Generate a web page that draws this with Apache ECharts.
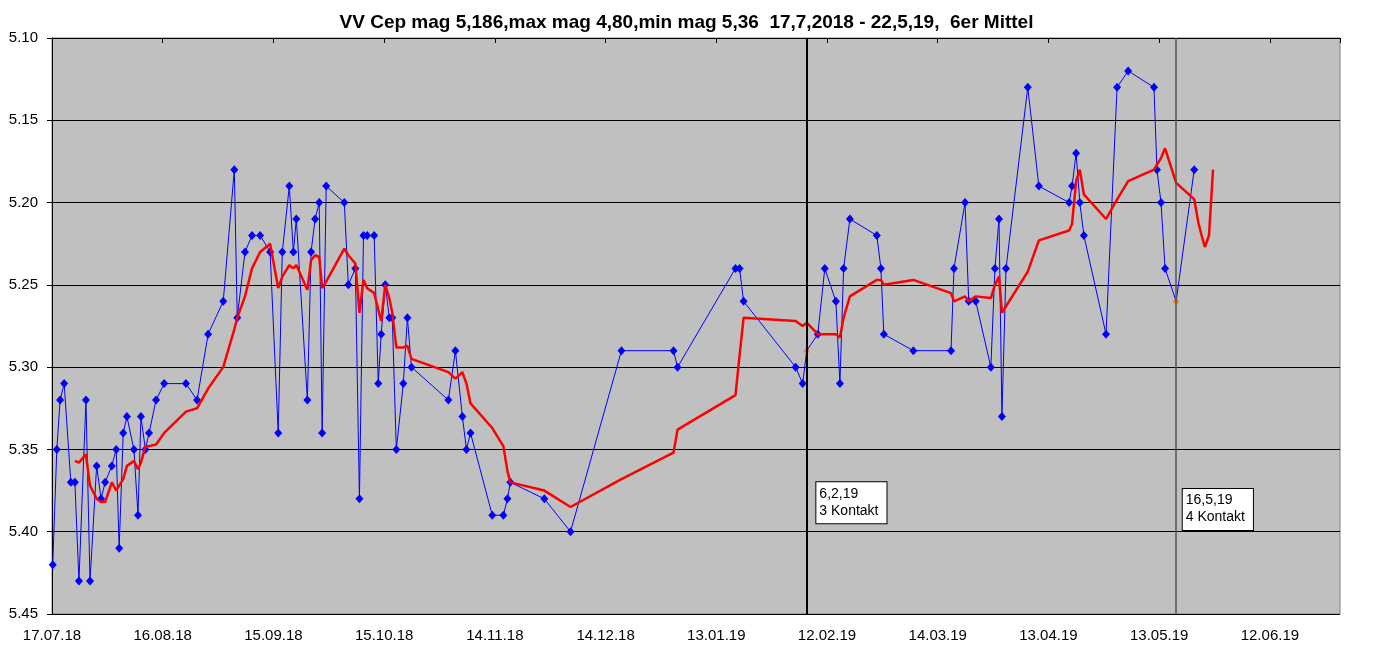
<!DOCTYPE html>
<html>
<head>
<meta charset="utf-8">
<script src="https://cdn.jsdelivr.net/npm/echarts@6/dist/echarts.min.js"></script>
<style>
html,body{margin:0;padding:0;background:#fff;}
#c{width:1373px;height:654px;}
</style>
</head>
<body>
<div id="c"></div>
<script>
// x values are days since 17.07.2018
const obsDay = [0.2,1.3,2.2,3.3,5.1,6.2,7.3,9.2,10.3,12.1,13.3,14.4,16.2,17.4,18.2,19.3,20.3,22.2,23.3,24.1,
  25.3,26.3,28.2,30.4,36.3,39.3,42.3,46.4,49.4,50.2,52.3,54.2,56.4,59.1,61.3,62.4,64.3,65.4,66.2,69.2,
  70.2,71.3,72.4,73.2,74.3,79.2,80.3,82.2,83.3,84.4,85.4,87.3,88.4,89.2,90.3,91.4,92.2,93.3,95.2,96.3,
  97.4,107.4,109.3,111.2,112.3,113.4,119.3,122.3,123.4,124.2,133.4,140.5,154.3,168.4,169.5,185.2,186.3,187.4,201.5,203.4,
  204.5,207.5,209.4,212.4,213.5,214.5,216.2,223.5,224.6,225.4,233.4,243.6,244.4,247.4,248.4,250.3,254.4,255.5,256.6,257.4,
  258.5,264.4,267.4,275.6,276.4,277.5,278.5,279.6,285.6,288.6,291.6,298.6,299.4,300.5,301.6,304.6,309.5];
const obsMag = [5.42,5.35,5.32,5.31,5.37,5.37,5.43,5.32,5.43,5.36,5.38,5.37,5.36,5.35,5.41,5.34,5.33,5.35,5.39,5.33,
  5.35,5.34,5.32,5.31,5.31,5.32,5.28,5.26,5.18,5.27,5.23,5.22,5.22,5.23,5.34,5.23,5.19,5.23,5.21,5.32,
  5.23,5.21,5.20,5.34,5.19,5.20,5.25,5.24,5.38,5.22,5.22,5.22,5.31,5.28,5.25,5.27,5.27,5.35,5.31,5.27,
  5.30,5.32,5.29,5.33,5.35,5.34,5.39,5.39,5.38,5.37,5.38,5.40,5.29,5.29,5.30,5.24,5.24,5.26,5.30,5.31,
  5.29,5.28,5.24,5.26,5.31,5.24,5.21,5.22,5.24,5.28,5.29,5.29,5.24,5.20,5.26,5.26,5.30,5.24,5.21,5.33,
  5.24,5.13,5.19,5.20,5.19,5.17,5.20,5.22,5.28,5.13,5.12,5.13,5.18,5.20,5.24,5.26,5.18];
// observations shown with an orange marker (contact dates)
const markedIdx = [80, 115];

// "6er Mittel" curve
const meanDay = [6.2,7.3,9.2,10.3,12.1,13.3,14.4,16.2,17.4,18.2,19.3,20.3,22.2,23.3,24.1,
  25.3,26.3,28.2,30.4,36.3,39.3,42.3,46.4,49.4,50.2,52.3,54.2,56.4,59.1,61.3,62.4,64.3,65.4,66.2,69.2,
  70.2,71.3,72.4,73.2,74.3,79.2,80.3,82.2,83.3,84.4,85.4,87.3,88.4,89.2,90.3,91.4,92.2,93.3,95.2,96.3,
  97.4,107.4,109.3,111.2,112.3,113.4,119.3,122.3,123.4,124.2,133.4,140.5,154.3,168.4,169.5,185.2,186.3,187.4,201.5,203.4,
  204.5,207.5,209.4,212.4,213.5,214.5,216.2,223.5,224.6,225.4,233.4,243.6,244.4,247.4,248.4,250.3,254.4,255.5,256.6,257.4,
  258.5,264.4,267.4,275.6,276.4,277.5,278.5,279.6,285.6,288.6,291.6,298.6,299.4,300.5,301.6,304.6,309.5,
  310.6,311.5,312.4,313.5,314.6];
const meanMag = [5.357,5.358,5.353,5.372,5.380,5.382,5.382,5.370,5.375,5.372,5.368,5.360,5.357,5.362,5.358,
  5.348,5.348,5.347,5.340,5.327,5.325,5.313,5.300,5.277,5.270,5.257,5.240,5.230,5.225,5.252,5.245,5.238,5.240,5.238,5.253,
  5.235,5.232,5.233,5.252,5.248,5.228,5.232,5.237,5.267,5.247,5.252,5.255,5.265,5.272,5.250,5.258,5.267,5.288,5.288,5.287,
  5.295,5.303,5.307,5.303,5.310,5.322,5.337,5.348,5.363,5.370,5.375,5.385,5.368,5.352,5.338,5.317,5.293,5.270,5.272,5.275,
  5.273,5.280,5.280,5.280,5.282,5.270,5.257,5.247,5.247,5.250,5.247,5.255,5.260,5.257,5.260,5.257,5.258,5.250,5.245,5.267,
  5.263,5.242,5.223,5.217,5.213,5.187,5.180,5.195,5.210,5.198,5.187,5.180,5.177,5.173,5.167,5.188,5.198,
  5.212,5.220,5.227,5.220,5.180];

const xTickLabels = ['17.07.18','16.08.18','15.09.18','15.10.18','14.11.18','14.12.18','13.01.19','12.02.19','14.03.19','13.04.19','13.05.19','12.06.19'];
const yTickStep = 0.05;

const contactDay = [204.4, 304.5];
const contactText = ['6,2,19\n3 Kontakt', '16,5,19\n4 Kontakt'];
const contactBoxMag = [5.370, 5.374];

const titleText = 'VV Cep mag 5,186,max mag 4,80,min mag 5,36  17,7,2018 - 22,5,19,  6er Mittel';

const FONT = '"Liberation Sans", Arial, sans-serif';
const chart = echarts.init(document.getElementById('c'), null, {renderer: 'canvas'});

const blueData = obsDay.map((d, i) => {
  if (markedIdx.indexOf(i) >= 0) {
    return {value: [d, obsMag[i]], symbol: 'circle', symbolSize: 5, itemStyle: {color: '#f07818'}};
  }
  return [d, obsMag[i]];
});
const redData = meanDay.map((d, i) => [d, meanMag[i]]);

chart.setOption({
  animation: false,
  backgroundColor: '#ffffff',
  title: {
    text: titleText, left: 'center', top: 8,
    textStyle: {fontFamily: FONT, fontSize: 19, fontWeight: 'bold', color: '#000'}
  },
  grid: {left: 52, right: 33, top: 38, bottom: 40, show: true, backgroundColor: '#c0c0c0', borderColor: '#808080', borderWidth: 1},
  xAxis: [{
    type: 'value', min: 0, max: 349, interval: 30, position: 'bottom',
    axisLine: {show: false}, axisTick: {show: false}, splitLine: {show: false},
    axisLabel: {
      fontFamily: FONT, fontSize: 15, color: '#000', margin: 14, showMaxLabel: false,
      formatter: v => (v % 30 === 0 ? (xTickLabels[v / 30] || '') : '')
    }
  }, {
    type: 'value', min: 0, max: 349, interval: 30, position: 'top',
    axisLine: {show: true, onZero: false, lineStyle: {color: '#000', width: 1}},
    axisTick: {show: true, inside: true, length: 5, lineStyle: {color: '#000'}},
    axisLabel: {show: false}, splitLine: {show: false}
  }],
  yAxis: {
    type: 'value', inverse: true, min: 5.10, max: 5.45, interval: yTickStep,
    axisLine: {show: true, lineStyle: {color: '#000', width: 1}},
    axisTick: {show: true, length: 5, lineStyle: {color: '#000'}},
    axisLabel: {fontFamily: FONT, fontSize: 15, color: '#000', margin: 14, formatter: v => v.toFixed(2)},
    splitLine: {show: true, lineStyle: {color: '#000', width: 1}}
  },
  series: [{
    name: 'mag', type: 'line', data: blueData,
    symbol: 'diamond', symbolSize: [8, 9],
    itemStyle: {color: '#0000ff'},
    lineStyle: {color: '#0000ff', width: 1},
    z: 3,
    markLine: {
      silent: true, symbol: ['none', 'none'], label: {show: false},
      data: [
        {xAxis: contactDay[0], lineStyle: {color: '#000', width: 2, type: 'solid'}},
        {xAxis: contactDay[1], lineStyle: {color: '#555', width: 1.5, type: 'solid'}}
      ]
    }
  }, {
    name: '6er Mittel', type: 'line', data: redData, showSymbol: false, symbol: 'none',
    lineStyle: {color: '#ff0000', width: 2.5}, z: 4
  }]
});

const graphics = contactDay.map((d, i) => {
  const p = chart.convertToPixel({xAxisIndex: 0, yAxisIndex: 0}, [d, contactBoxMag[i]]);
  return {
    type: 'text', x: p[0] + (i === 0 ? 10 : 7), y: p[1], z: 100,
    style: {
      text: contactText[i], font: '14px ' + FONT, fill: '#000', lineHeight: 17,
      backgroundColor: '#fff', borderColor: '#000', borderWidth: 1, padding: [3, 8, 4, 3]
    }
  };
});
chart.setOption({graphic: graphics});
</script>
</body>
</html>
